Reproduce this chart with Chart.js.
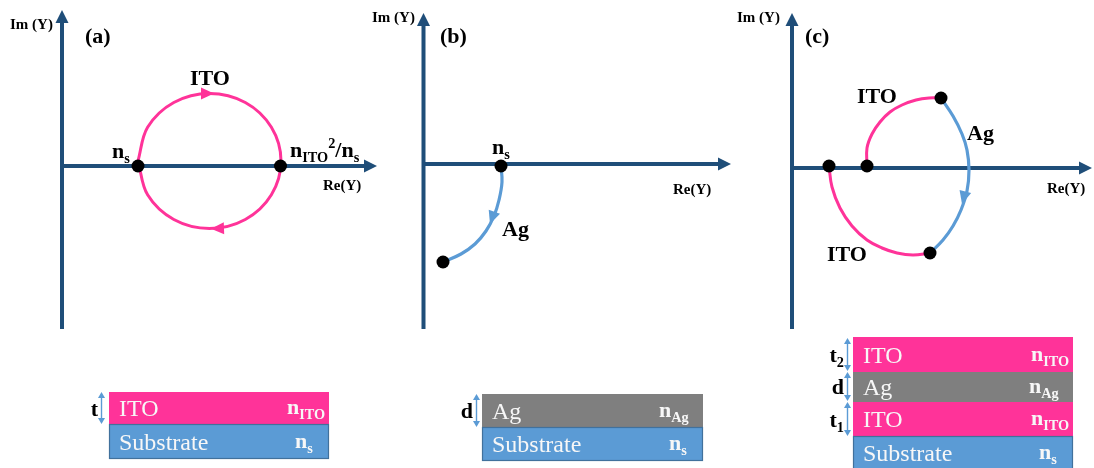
<!DOCTYPE html>
<html>
<head>
<meta charset="utf-8">
<script src="https://cdn.jsdelivr.net/npm/chart.js@4/dist/chart.umd.min.js"></script>
<style>
  html, body { margin: 0; padding: 0; background: #ffffff; overflow: hidden; }
  canvas { display: block; }
</style>
</head>
<body>
<canvas id="diagram" width="1094" height="468"></canvas>
<script>
// Diagram units: x grows to the right (0..1094), y grows downward (0..468).

// Admittance-plane axes, one pair per panel: [start, end-of-shaft]
const axisVertA = [[62, 329], [62, 22]];
const axisHorA  = [[62, 166], [365, 166]];
const axisVertB = [[423.5, 329], [423.5, 25]];
const axisHorB  = [[423.5, 164], [719, 164]];
const axisVertC = [[792, 329], [792, 25]];
const axisHorC  = [[792, 168], [1080, 168]];

// Admittance loci
const itoLocusA = [[138, 161], [147.6, 127.3], [173.8, 102.5], [209.5, 93.5], [245.3, 102.5],
                   [271.4, 127.3], [281, 161], [271.4, 194.8], [245.3, 219.5], [209.5, 228.5],
                   [173.8, 219.5], [147.6, 194.8], [138, 161]];
const agLocusB  = [[501, 166], [502, 182], [499, 200], [494, 216], [486, 231], [475, 244],
                   [461, 254], [443, 262]];
const itoUpperC = [[867, 166], [867, 148], [872, 134], [880, 122], [890, 112], [902, 105],
                   [916, 100], [929, 98], [941, 98]];
const agLocusC  = [[941, 98], [953, 116], [962, 134], [967, 150], [969, 170], [967, 191],
                   [961, 210], [953, 226], [943, 240], [930, 253]];
const itoLowerC = [[829, 166], [832, 187], [840, 208], [852, 226], [867, 240], [882, 248],
                   [897, 253], [913, 255], [930, 253]];

// Start / end admittances
const nodesA = [[138, 166], [280.5, 166]];
const nodesB = [[501, 166], [443, 262]];
const nodesC = [[829, 166], [867, 166], [941, 98], [930, 253]];

// Direction markers along the loci: [tip, a point behind it]
const locusArrows = [
  { tip: [214, 93.5], from: [200, 93.5], color: 'ito' },
  { tip: [211, 228.8], from: [225, 228.3], color: 'ito' },
  { tip: [490, 224], from: [495, 210], color: 'ag' },
  { tip: [962, 204], from: [966, 189], color: 'ag' }
];

// Text on the planes
const axisTitles = [['Im (Y)', 10, 29], ['Re(Y)', 323, 190], ['Im (Y)', 372, 22],
                    ['Re(Y)', 673, 194], ['Im (Y)', 737, 22], ['Re(Y)', 1047, 193]];
const panelTags = [['(a)', 85, 43], ['(b)', 440, 43], ['(c)', 805, 43]];
const locusLabels = [
  [[['ITO', '']], 190, 85],
  [[['n', ''], ['s', 'sub']], 112, 158],
  [[['n', ''], ['ITO', 'sub'], ['2', 'sup'], ['/n', ''], ['s', 'sub']], 290, 157],
  [[['n', ''], ['s', 'sub']], 492, 154],
  [[['Ag', '']], 502, 236],
  [[['ITO', '']], 857, 103],
  [[['Ag', '']], 967, 140],
  [[['ITO', '']], 827, 261]
];

// Film stacks: [material, index subscript, top, bottom]
const stackLayersA = [['ITO', 'ITO', 392, 424], ['Substrate', 's', 424, 459]];
const stackLayersB = [['Ag', 'Ag', 394, 427], ['Substrate', 's', 427, 461]];
const stackLayersC = [['ITO', 'ITO', 337, 372], ['Ag', 'Ag', 372, 402],
                      ['ITO', 'ITO', 402, 436], ['Substrate', 's', 436, 470]];
const stackSpans = [[109, 329], [482, 703], [853, 1073]];
// Thickness markers: [symbol, subscript, top, bottom]
const thicknessA = [['t', '', 392, 424]];
const thicknessB = [['d', '', 394, 427]];
const thicknessC = [['t', '2', 338, 371], ['d', '', 372, 401], ['t', '1', 402, 436]];
const thicknessX = [101.5, 476.5, 847.5];

const COLORS = {
  axis: '#1f4e79',
  ito: '#ff3399',
  ag: '#5b9bd5',
  agFill: '#7f7f7f',
  subFill: '#5b9bd5',
  subEdge: '#41719c',
  marker: '#5b9bd5',
  layerText: '#f7f7f7'
};
const SERIF = '"Liberation Serif", "Times New Roman", serif';

const toXY = pts => pts.map(([x, y]) => ({ x, y }));

function lineSet(pts, color, width, tension, arrow) {
  return {
    data: toXY(pts), showLine: true, borderColor: color, borderWidth: width,
    pointRadius: 0, tension: tension, fill: false, clip: false,
    order: arrow ? 3 : 2, axisArrow: !!arrow, borderCapStyle: 'butt'
  };
}
function nodeSet(pts) {
  return {
    data: toXY(pts), showLine: false, pointRadius: 6.5, pointBackgroundColor: '#000',
    pointBorderWidth: 0, order: 0, clip: false
  };
}

function drawRich(ctx, parts, x, y, size, weight, color, align) {
  const segs = parts.map(([t, m]) => ({ t, m, s: m ? size * 0.65 : size }));
  let total = 0;
  segs.forEach(sg => {
    ctx.font = `${weight} ${sg.s}px ${SERIF}`;
    sg.w = ctx.measureText(sg.t).width;
    total += sg.w;
  });
  let cx = align === 'right' ? x - total : x;
  ctx.fillStyle = color;
  ctx.textBaseline = 'alphabetic';
  ctx.textAlign = 'left';
  segs.forEach(sg => {
    ctx.font = `${weight} ${sg.s}px ${SERIF}`;
    const dy = sg.m === 'sub' ? size * 0.24 : (sg.m === 'sup' ? -size * 0.4 : 0);
    ctx.fillText(sg.t, cx, y + dy);
    cx += sg.w;
  });
}

function arrowHead(ctx, tipX, tipY, dirX, dirY, len, half, color) {
  const n = Math.hypot(dirX, dirY) || 1;
  const ux = dirX / n, uy = dirY / n;
  const bx = tipX - ux * len, by = tipY - uy * len;
  ctx.beginPath();
  ctx.moveTo(tipX, tipY);
  ctx.lineTo(bx - uy * half, by + ux * half);
  ctx.lineTo(bx + uy * half, by - ux * half);
  ctx.closePath();
  ctx.fillStyle = color;
  ctx.fill();
}

const stackPlugin = {
  id: 'stacks',
  beforeDatasetsDraw(chart) {
    const ctx = chart.ctx, sx = chart.scales.x, sy = chart.scales.y;
    const px = v => sx.getPixelForValue(v), py = v => sy.getPixelForValue(v);
    const stacks = [stackLayersA, stackLayersB, stackLayersC];
    const marks = [thicknessA, thicknessB, thicknessC];
    ctx.save();
    stacks.forEach((layers, i) => {
      const [x0, x1] = stackSpans[i];
      layers.forEach(([name, idx, top, bottom]) => {
        const fill = name === 'ITO' ? COLORS.ito : (name === 'Ag' ? COLORS.agFill : COLORS.subFill);
        const X0 = px(x0), X1 = px(x1), Y0 = py(top), Y1 = py(bottom);
        ctx.fillStyle = fill;
        ctx.fillRect(X0, Y0, X1 - X0, Y1 - Y0);
        if (name === 'Substrate') {
          ctx.strokeStyle = COLORS.subEdge;
          ctx.lineWidth = 1.2;
          ctx.strokeRect(X0 + 0.5, Y0 + 0.5, X1 - X0 - 1, Y1 - Y0 - 1);
        }
        const base = (Y0 + Y1) / 2 + 8;
        drawRich(ctx, [[name, '']], X0 + 10, base, 24, 'normal', COLORS.layerText, 'left');
        const off = idx === 'ITO' ? 42 : (idx === 'Ag' ? 44 : 34);
        drawRich(ctx, [['n', ''], [idx, 'sub']], X1 - off, base - 2, 22, 'bold', COLORS.layerText, 'left');
      });
      // thickness markers
      const ax = px(thicknessX[i]);
      marks[i].forEach(([sym, sub, top, bottom]) => {
        const Y0 = py(top), Y1 = py(bottom);
        ctx.strokeStyle = COLORS.marker;
        ctx.lineWidth = 1.4;
        ctx.beginPath();
        ctx.moveTo(ax, Y0 + 4);
        ctx.lineTo(ax, Y1 - 4);
        ctx.stroke();
        arrowHead(ctx, ax, Y0, 0, -1, 6, 3.5, COLORS.marker);
        arrowHead(ctx, ax, Y1, 0, 1, 6, 3.5, COLORS.marker);
        const parts = sub ? [[sym, ''], [sub, 'sub']] : [[sym, '']];
        drawRich(ctx, parts, ax - 3.5, (Y0 + Y1) / 2 + 7.5, 22, 'bold', '#000', 'right');
      });
    });
    ctx.restore();
  },
  afterDatasetsDraw(chart) {
    const ctx = chart.ctx, sx = chart.scales.x, sy = chart.scales.y;
    const px = v => sx.getPixelForValue(v), py = v => sy.getPixelForValue(v);
    ctx.save();
    // axis arrowheads continue each axis shaft
    chart.data.datasets.forEach(ds => {
      if (!ds.axisArrow) return;
      const d = ds.data, a = d[d.length - 2], b = d[d.length - 1];
      const dx = px(b.x) - px(a.x), dy = py(b.y) - py(a.y);
      const n = Math.hypot(dx, dy);
      arrowHead(ctx, px(b.x) + dx / n * 12, py(b.y) + dy / n * 12, dx, dy, 13, 6.5, COLORS.axis);
    });
    locusArrows.forEach(a => {
      const tx = px(a.tip[0]), ty = py(a.tip[1]);
      arrowHead(ctx, tx, ty, tx - px(a.from[0]), ty - py(a.from[1]), 13, 6, COLORS[a.color]);
    });
    axisTitles.forEach(([t, x, y]) => drawRich(ctx, [[t, '']], px(x), py(y), 15, 'bold', '#000', 'left'));
    panelTags.forEach(([t, x, y]) => drawRich(ctx, [[t, '']], px(x), py(y), 22, 'bold', '#000', 'left'));
    locusLabels.forEach(([parts, x, y]) => drawRich(ctx, parts, px(x), py(y), 22, 'bold', '#000', 'left'));
    ctx.restore();
  }
};

new Chart(document.getElementById('diagram'), {
  type: 'scatter',
  data: {
    datasets: [
      nodeSet(nodesA), nodeSet(nodesB), nodeSet(nodesC),
      lineSet(itoLocusA, COLORS.ito, 3, 0.35),
      lineSet(agLocusB, COLORS.ag, 3.2, 0.4),
      lineSet(itoUpperC, COLORS.ito, 3, 0.4),
      lineSet(agLocusC, COLORS.ag, 3.2, 0.4),
      lineSet(itoLowerC, COLORS.ito, 3, 0.4),
      lineSet(axisVertA, COLORS.axis, 4, 0, true),
      lineSet(axisHorA, COLORS.axis, 4, 0, true),
      lineSet(axisVertB, COLORS.axis, 4, 0, true),
      lineSet(axisHorB, COLORS.axis, 4, 0, true),
      lineSet(axisVertC, COLORS.axis, 4, 0, true),
      lineSet(axisHorC, COLORS.axis, 4, 0, true)
    ]
  },
  options: {
    responsive: false,
    animation: false,
    devicePixelRatio: 1,
    layout: { padding: 0, autoPadding: false },
    events: [],
    scales: {
      x: { type: 'linear', min: 0, max: 1094, display: false },
      y: { type: 'linear', min: 0, max: 468, reverse: true, display: false }
    },
    plugins: { legend: { display: false }, tooltip: { enabled: false } }
  },
  plugins: [stackPlugin]
});
</script>
</body>
</html>
